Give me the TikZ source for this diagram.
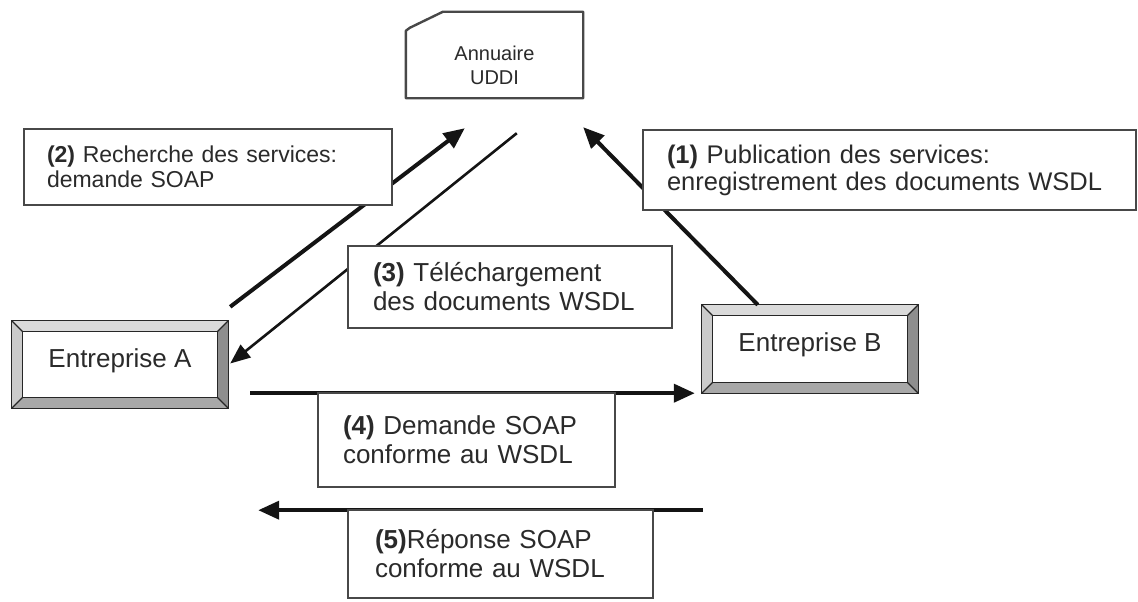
\documentclass[tikz,border=0pt]{standalone}
\usepackage{fontspec}
\setmainfont{Liberation Sans}
\usetikzlibrary{arrows.meta,calc,backgrounds}
\definecolor{ink}{HTML}{2A2A2A}
\definecolor{edge}{HTML}{484848}
\definecolor{bevtop}{HTML}{DADADA}
\definecolor{bevleft}{HTML}{CBCBCB}
\definecolor{bevright}{HTML}{8E8E8E}
\definecolor{bevbottom}{HTML}{A8A8A8}

% bevelled frame around a named node: #1 node, #2 bevel depth
\newcommand\bevelframe[2]{%
  \coordinate (#1-onw) at (#1.north west);
  \coordinate (#1-one) at (#1.north east);
  \coordinate (#1-ose) at (#1.south east);
  \coordinate (#1-osw) at (#1.south west);
  \coordinate (#1-inw) at ($(#1.north west)+(#2,#2)$);
  \coordinate (#1-ine) at ($(#1.north east)+(-#2,#2)$);
  \coordinate (#1-ise) at ($(#1.south east)+(-#2,-#2)$);
  \coordinate (#1-isw) at ($(#1.south west)+(#2,-#2)$);
  \fill[bevtop] (#1-onw) -- (#1-one) -- (#1-ine) -- (#1-inw) -- cycle;
  \fill[bevleft] (#1-onw) -- (#1-inw) -- (#1-isw) -- (#1-osw) -- cycle;
  \fill[bevright] (#1-one) -- (#1-ose) -- (#1-ise) -- (#1-ine) -- cycle;
  \fill[bevbottom] (#1-osw) -- (#1-isw) -- (#1-ise) -- (#1-ose) -- cycle;
  \fill[white] (#1-inw) rectangle (#1-ise);
  \draw[bevline] (#1-onw) rectangle (#1-ose);
  \draw[bevline] (#1-inw) rectangle (#1-ise);
  \draw[bevline] (#1-onw) -- (#1-inw) (#1-one) -- (#1-ine)
                 (#1-ose) -- (#1-ise) (#1-osw) -- (#1-isw);
}

\begin{document}
\begin{tikzpicture}[x=1pt,y=-1pt,
  lbl/.style={rectangle,draw=edge,line width=2pt,fill=white,align=left,
    text=ink,inner xsep=25pt,inner ysep=0pt,
    font=\fontsize{26}{29}\selectfont},
  firm/.style={rectangle,inner sep=0pt,minimum width=216pt,text=ink,
    text height=19pt,text depth=14pt,font=\fontsize{26}{29}\selectfont},
  bevline/.style={draw=black!85,line width=1.3pt,line join=miter},
  flow/.style={line width=4pt,draw=black!92,
    -{Triangle[length=21pt,width=18pt]}},
  thinflow/.style={line width=2.6pt,draw=black!92,
    -{Triangle[length=20pt,width=16pt]}},
]
\useasboundingbox (0,0) rectangle (1138,602);

% directory box (card shape) and the two companies
\node[rectangle,minimum width=177pt,minimum height=86pt,inner sep=0pt]
  (uddi) at (494.5,55) {};
\draw[draw=edge,line width=2.4pt,line join=round]
  ($(uddi.north west)+(0,19)$) -- ($(uddi.north west)+(4,16)$)
  -- ($(uddi.north west)+(37,0)$) -- (uddi.north east)
  -- (uddi.south east) -- (uddi.south west) -- cycle;
\node[text=ink,align=center,font=\fontsize{20}{24}\selectfont]
  (uddiText) at ($(uddi.center)+(0,10)$) {Annuaire\\UDDI};

\node[firm,minimum height=87pt] (entA) at (120,364.5) {Entreprise A};
\node[firm,minimum height=88pt] (entB) at (810,349) {Entreprise B};
\begin{pgfonlayer}{background}
  \bevelframe{entA}{11}
  \bevelframe{entB}{11}
\end{pgfonlayer}

% message flows
\draw[flow] ($(entB.north west)+(56,0)$) -- ($(uddi.south east)+(0,29)$);
\draw[flow] ($(entA.north east)+(2,-14)$) -- ($(uddi.south west)+(59,30)$);
\draw[thinflow] ($(uddi.south west)+(111,35)$) -- ($(entA.east)+(2,-1)$);
\draw[flow] ($(entA.south east)+(22,-15)$) -- ($(entB.south west)+(-7,0)$);
\draw[flow] ($(entB.south west)+(1,117)$) -- ($(entA.south east)+(30,102)$);

% step labels
\node[lbl,text width=463pt,inner xsep=15pt,minimum height=80pt,
  font=\fontsize{25.5}{27}\selectfont] (s1) at (889.5,170)
  {\hspace*{9pt}\textbf{(1)} Publication des services:\\
   \hspace*{9pt}enregistrement des documents WSDL};
\node[lbl,text width=322pt,inner xsep=23pt,minimum height=76pt,
  font=\fontsize{23}{25}\selectfont] (s2) at (208,167)
  {\textbf{(2)} Recherche des services:\\demande SOAP};
\node[lbl,text width=274pt,minimum height=82pt] (s3) at (510,287)
  {\textbf{(3)} Téléchargement\\des documents WSDL};
\node[lbl,text width=247pt,minimum height=94pt] (s4) at (466.5,440)
  {\textbf{(4)} Demande SOAP\\conforme au WSDL};
\node[lbl,text width=251pt,inner xsep=27pt,minimum height=88pt] (s5) at (500.5,554)
  {\textbf{(5)}Réponse SOAP\\conforme au WSDL};
\end{tikzpicture}
\end{document}
